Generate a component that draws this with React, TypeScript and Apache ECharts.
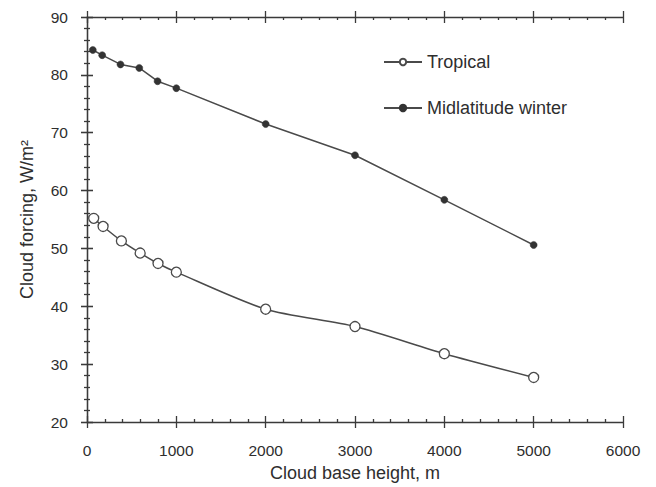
import React, { useEffect, useRef } from "react";
import * as echarts from "echarts";

const xTicks = [0, 6000];
const yRange = [20, 90];
const tropicalX = [75, 180, 385, 595, 795, 1000, 2000, 3000, 4000, 5000];
const tropicalY = [55.2, 53.8, 51.3, 49.2, 47.4, 45.9, 39.5, 36.5, 31.8, 27.7];
const midX = [65, 170, 375, 585, 790, 1000, 2000, 3000, 4000, 5000];
const midY = [84.3, 83.4, 81.8, 81.2, 78.9, 77.7, 71.5, 66.1, 58.4, 50.6];
const seriesNames = ["Tropical", "Midlatitude winter"];

const FONT = "Liberation Sans, Arial, Helvetica, sans-serif";
const INK = "#2e2e2e";

export default function App() {
  const ref = useRef<HTMLDivElement>(null);
  useEffect(() => {
    if (!ref.current) return;
    const chart = echarts.init(ref.current, null, { renderer: "svg" });
    const gridRect = { left: 87, right: 33, top: 17, bottom: 65 };
    const lineStyle = { color: "#3a3a3a", width: 1.3 };
    const baseX = (gridIndex: number, position: string, inside: boolean, labels: boolean, lineShow: boolean) => ({
      type: "value",
      gridIndex,
      position,
      min: xTicks[0],
      max: xTicks[1],
      interval: 1000,
      splitLine: { show: false },
      axisLine: { show: lineShow, lineStyle },
      axisTick: { show: true, inside, length: 6, lineStyle },
      minorTick: { show: inside, splitNumber: 5, length: 3, lineStyle },
      axisLabel: {
        show: labels,
        margin: 20,
        fontSize: 15.5,
        fontFamily: FONT,
        color: INK,
        formatter: (v: number) => String(v),
      },
      name: labels ? "Cloud base height, m" : "",
      nameLocation: "middle",
      nameGap: 42,
      nameTextStyle: { fontSize: 18, fontFamily: FONT, color: INK },
    });
    const baseY = (gridIndex: number, position: string, inside: boolean, labels: boolean, lineShow: boolean) => ({
      type: "value",
      gridIndex,
      position,
      min: yRange[0],
      max: yRange[1],
      interval: 10,
      splitLine: { show: false },
      axisLine: { show: lineShow, lineStyle },
      axisTick: { show: true, inside, length: 6, lineStyle },
      minorTick: { show: inside, splitNumber: 5, length: 3, lineStyle },
      axisLabel: {
        show: labels,
        margin: 19,
        fontSize: 15.5,
        fontFamily: FONT,
        color: INK,
      },
      name: labels ? "Cloud forcing, W/m²" : "",
      nameLocation: "middle",
      nameGap: 51,
      nameTextStyle: { fontSize: 18, fontFamily: FONT, color: INK },
    });
    chart.setOption({
      animation: false,
      backgroundColor: "#ffffff",
      grid: [
        { ...gridRect },
        { ...gridRect },
      ],
      xAxis: [
        baseX(0, "bottom", false, true, true),
        baseX(0, "top", false, false, true),
        baseX(1, "bottom", true, false, false),
        baseX(1, "top", true, false, false),
      ],
      yAxis: [
        baseY(0, "left", false, true, true),
        baseY(0, "right", false, false, true),
        baseY(1, "left", true, false, false),
        baseY(1, "right", true, false, false),
      ],
      legend: {
        orient: "vertical",
        left: 378,
        top: 47,
        itemWidth: 38,
        itemHeight: 8,
        itemGap: 26,
        textStyle: { fontSize: 18, fontFamily: FONT, color: INK, lineHeight: 20 },
        data: seriesNames,
      },
      series: [
        {
          name: seriesNames[0],
          type: "line",
          xAxisIndex: 0,
          yAxisIndex: 0,
          smooth: 0.25,
          symbol: "circle",
          symbolSize: 10,
          showAllSymbol: true,
          lineStyle: { color: "#4a4a4a", width: 1.5 },
          itemStyle: { color: "#ffffff", borderColor: "#4a4a4a", borderWidth: 1.3 },
          data: tropicalX.map((x, i) => [x, tropicalY[i]]),
        },
        {
          name: seriesNames[1],
          type: "line",
          xAxisIndex: 0,
          yAxisIndex: 0,
          symbol: "circle",
          symbolSize: 7,
          showAllSymbol: true,
          lineStyle: { color: "#4a4a4a", width: 1.5 },
          itemStyle: { color: "#333333", borderColor: "#333333", borderWidth: 0.5 },
          data: midX.map((x, i) => [x, midY[i]]),
        },
      ],
    });
    return () => chart.dispose();
  }, []);
  return <div ref={ref} style={{ width: 656, height: 487, position: "absolute", left: 0, top: 0 }} />;
}
